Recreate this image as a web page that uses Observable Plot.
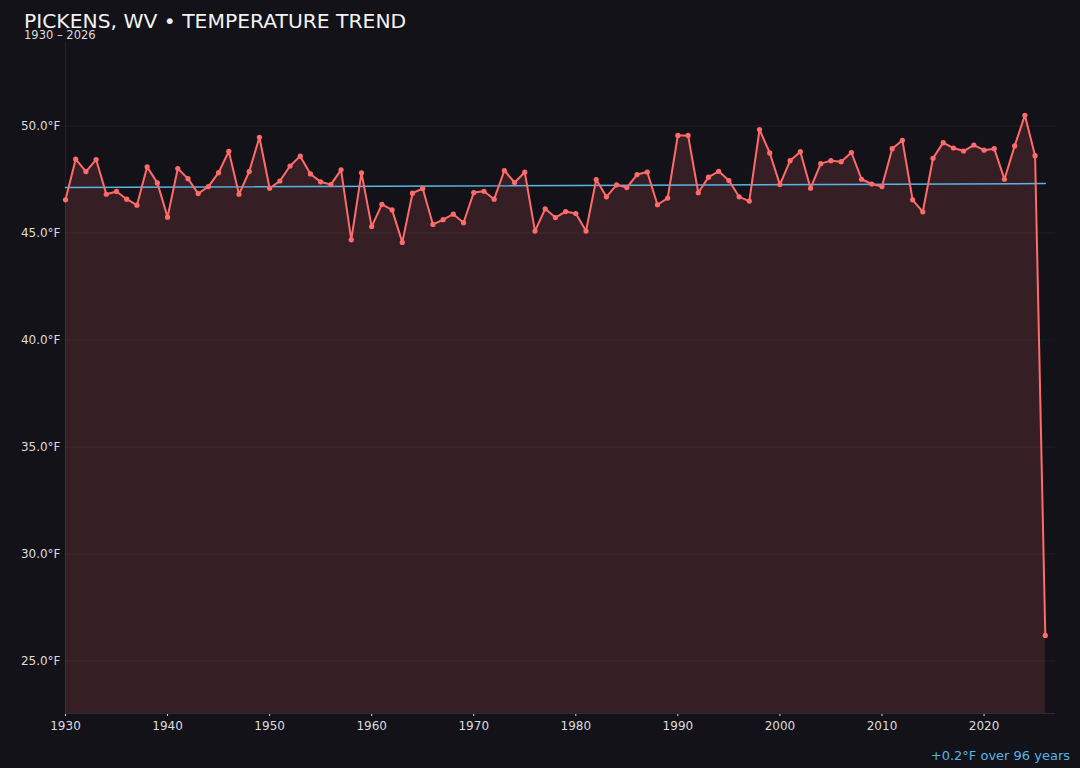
<!DOCTYPE html>
<html>
<head>
<meta charset="utf-8">
<script src="https://cdn.jsdelivr.net/npm/d3@7"></script>
<script src="https://cdn.jsdelivr.net/npm/@observablehq/plot@0.6"></script>
<style>
  html, body { margin: 0; padding: 0; background: #131218; }
  body { width: 1080px; height: 768px; position: relative; overflow: hidden; font-family: "DejaVu Sans", sans-serif; }
  #title { position: absolute; left: 24px; top: 9px; font-size: 20.3px; color: #f2f2f2; line-height: 24px; white-space: nowrap; }
  #subtitle { position: absolute; left: 24px; top: 28px; font-size: 11.5px; color: #dcdcdc; line-height: 15px; white-space: nowrap; }
  #chart { position: absolute; left: 0; top: 0; }
  #caption { position: absolute; right: 10px; top: 747px; font-size: 13px; color: #5ab4e6; line-height: 18px; white-space: nowrap; }
</style>
</head>
<body>
<div id="title">PICKENS, WV • TEMPERATURE TREND</div>
<div id="subtitle">1930 – 2026</div>
<div id="chart"></div>
<div id="caption">+0.2°F over 96 years</div>
<script>
const years = d3.range(1930, 2027);
const temps = [
  46.55, 48.45, 47.87, 48.43, 46.81, 46.94, 46.58, 46.30, 48.09, 47.34,
  45.74, 48.01, 47.54, 46.84, 47.17, 47.82, 48.82, 46.81, 47.87, 49.47,
  47.09, 47.43, 48.13, 48.59, 47.76, 47.39, 47.26, 47.95, 44.68, 47.81,
  45.30, 46.34, 46.08, 44.56, 46.86, 47.08, 45.40, 45.62, 45.88, 45.48,
  46.89, 46.95, 46.58, 47.92, 47.36, 47.84, 45.09, 46.13, 45.72, 46.00,
  45.91, 45.09, 47.50, 46.69, 47.25, 47.12, 47.73, 47.85, 46.32, 46.63,
  49.56, 49.56, 46.88, 47.61, 47.88, 47.45, 46.69, 46.49, 49.83, 48.74,
  47.26, 48.38, 48.80, 47.09, 48.24, 48.38, 48.33, 48.76, 47.51, 47.29,
  47.17, 48.94, 49.33, 46.55, 45.99, 48.49, 49.22, 48.97, 48.83, 49.11,
  48.87, 48.94, 47.51, 49.07, 50.50, 48.61, 26.20
];
const trendYears = [1930, 2026];
const trendTemps = [47.12, 47.31];
const yTicks = [25, 30, 35, 40, 45, 50];
const xTicks = [1930, 1940, 1950, 1960, 1970, 1980, 1990, 2000, 2010, 2020];
const xDomain = [1930, 2027];
const yDomain = [22.55, 53.9];

const data = years.map((year, i) => ({year, temp: temps[i]}));
const trend = trendYears.map((year, i) => ({year, temp: trendTemps[i]}));

const chart = Plot.plot({
  width: 1080,
  height: 740,
  marginTop: 42,
  marginBottom: 27,
  marginLeft: 65,
  marginRight: 25,
  style: { background: "transparent", color: "#dcdcdc", fontFamily: "DejaVu Sans, sans-serif", fontSize: "12px" },
  x: { domain: xDomain, ticks: xTicks, tickFormat: d => String(d), tickSize: 3, tickPadding: 5, label: null },
  y: { domain: yDomain, ticks: yTicks, tickFormat: d => d.toFixed(1) + "°F", tickSize: 0, tickPadding: 5, label: null },
  marks: [
    Plot.gridY(yTicks, { stroke: "#ffffff", strokeOpacity: 0.06 }),
    Plot.ruleX([xDomain[0]], { stroke: "#ffffff", strokeOpacity: 0.07 }),
    Plot.areaY(data, { x: "year", y1: yDomain[0], y2: "temp", fill: "#ff6b6b", fillOpacity: 0.15 }),
    Plot.ruleY([yDomain[0]], { stroke: "#2c2b34" }),
    Plot.line(trend, { x: "year", y: "temp", stroke: "#5ab4e6", strokeWidth: 1.5 }),
    Plot.line(data, { x: "year", y: "temp", stroke: "#ff6b6b", strokeWidth: 2 }),
    Plot.dot(data, { x: "year", y: "temp", fill: "#ff6b6b", r: 2.6 })
  ]
});
document.getElementById("chart").appendChild(chart);
</script>
</body>
</html>
